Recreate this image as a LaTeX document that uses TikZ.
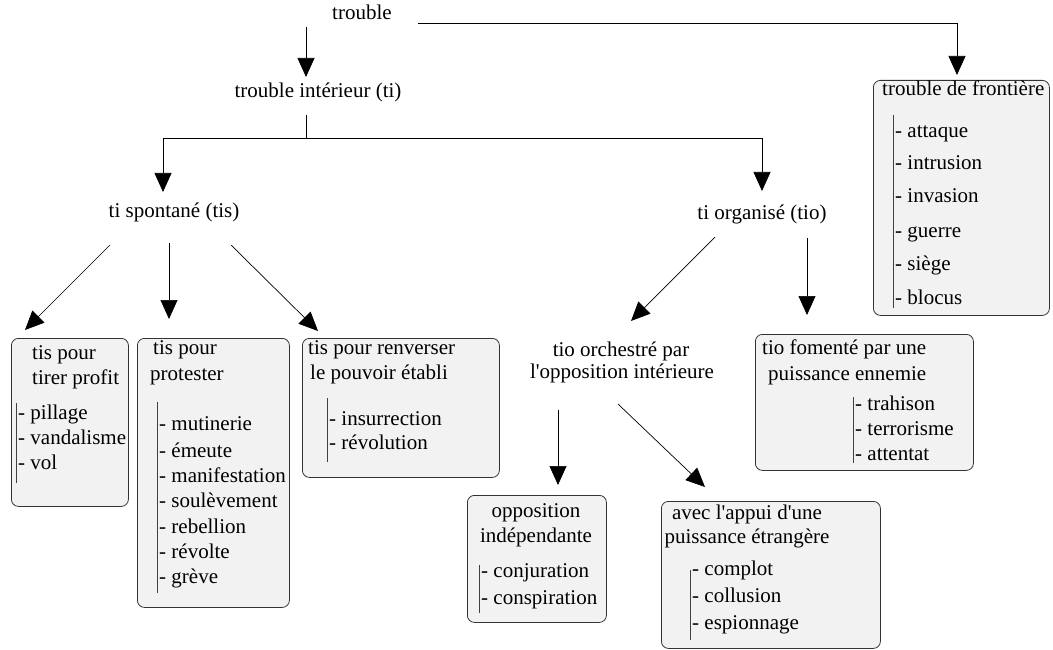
\documentclass[tikz,border=0pt]{standalone}
\usepackage{fontspec}
\setmainfont{Liberation Serif}
\usetikzlibrary{arrows.meta}
\begin{document}
\begin{tikzpicture}[x=1pt,y=-1pt,
  lbl/.style={font=\fontsize{21}{25}\selectfont, inner sep=0pt, anchor=mid west},
  clbl/.style={font=\fontsize{21}{25}\selectfont, inner sep=0pt, anchor=mid},
  box/.style={draw=black!80, fill=black!5, rounded corners=7pt, line width=0.8pt, anchor=north west, inner sep=0pt},
  bar/.style={draw=black!75, line width=0.8pt},
  conn/.style={draw=black, line width=0.7pt},
  arr/.style={conn, -{Triangle[length=19pt,width=17pt]}}]
\useasboundingbox (0,0) rectangle (1053,650);

% ---------- boxes ----------
\node[box, minimum width=117pt, minimum height=168pt] (b1) at (11,338) {};
\node[box, minimum width=152pt, minimum height=269pt] (b2) at (137,338) {};
\node[box, minimum width=197pt, minimum height=139pt] (b3) at (302,338) {};
\node[box, minimum width=218pt, minimum height=136pt] (b4) at (755,334) {};
\node[box, minimum width=139pt, minimum height=127pt] (b5) at (467,495) {};
\node[box, minimum width=219pt, minimum height=147pt] (b6) at (661,501) {};
\node[box, minimum width=176pt, minimum height=235pt] (b7) at (873,80) {};

% ---------- free labels ----------
\node[lbl] (trouble) at (332,17) {trouble};
\node[clbl] (ti) at (318,95) {trouble intérieur (ti)};
\node[clbl] (tis) at (174,215) {ti spontané (tis)};
\node[clbl] (tio) at (762,217) {ti organisé (tio)};
\node[clbl] (orch1) at (621,354) {tio orchestré par};
\node[clbl] (orch2) at (622,376) {l\textquotesingle opposition intérieure};

% ---------- box 1 ----------
\node[lbl] (b1t1) at (32,357) {tis pour};
\node[lbl] (b1t2) at (32,382) {tirer profit};
\draw[bar] (16,403) -- (16,483);
\node[lbl] (b1i1) at (18,417) {- pillage};
\node[lbl] (b1i2) at (18,442) {- vandalisme};
\node[lbl] (b1i3) at (18,467) {- vol};

% ---------- box 2 ----------
\node[lbl] (b2t1) at (153,352) {tis pour};
\node[lbl] (b2t2) at (150,378) {protester};
\draw[bar] (157,402) -- (157,593);
\node[lbl] (b2i1) at (159,428) {- mutinerie};
\node[lbl] (b2i2) at (159,455) {- émeute};
\node[lbl] (b2i3) at (159,480) {- manifestation};
\node[lbl] (b2i4) at (159,505) {- soulèvement};
\node[lbl] (b2i5) at (159,531) {- rebellion};
\node[lbl] (b2i6) at (159,556) {- révolte};
\node[lbl] (b2i7) at (159,581) {- grève};

% ---------- box 3 ----------
\node[lbl] (b3t1) at (308,352) {tis pour renverser};
\node[lbl] (b3t2) at (310,377) {le pouvoir établi};
\draw[bar] (327,398) -- (327,462);
\node[lbl] (b3i1) at (329,423) {- insurrection};
\node[lbl] (b3i2) at (329,447) {- révolution};

% ---------- box 4 ----------
\node[lbl] (b4t1) at (762,352) {tio fomenté par une};
\node[lbl] (b4t2) at (768,378) {puissance ennemie};
\draw[bar] (853,397) -- (853,463);
\node[lbl] (b4i1) at (855,408) {- trahison};
\node[lbl] (b4i2) at (855,433) {- terrorisme};
\node[lbl] (b4i3) at (855,458) {- attentat};

% ---------- box 5 ----------
\node[clbl] (b5t1) at (536,515) {opposition};
\node[clbl] (b5t2) at (536,540) {indépendante};
\draw[bar] (479,565) -- (479,613);
\node[lbl] (b5i1) at (481,575) {- conjuration};
\node[lbl] (b5i2) at (481,602) {- conspiration};

% ---------- box 6 ----------
\node[clbl] (b6t1) at (747,517) {avec l\textquotesingle appui d\textquotesingle une};
\node[clbl] (b6t2) at (747,541) {puissance étrangère};
\draw[bar] (690,570) -- (690,640);
\node[lbl] (b6i1) at (692,573) {- complot};
\node[lbl] (b6i2) at (692,600) {- collusion};
\node[lbl] (b6i3) at (692,627) {- espionnage};

% ---------- box 7 ----------
\node[lbl] (b7t1) at (882,93) {trouble de frontière};
\draw[bar] (893,115) -- (893,308);
\node[lbl] (b7i1) at (895,135) {- attaque};
\node[lbl] (b7i2) at (895,167) {- intrusion};
\node[lbl] (b7i3) at (895,200) {- invasion};
\node[lbl] (b7i4) at (895,235) {- guerre};
\node[lbl] (b7i5) at (895,268) {- siège};
\node[lbl] (b7i6) at (895,302) {- blocus};

% ---------- connector end points ----------
\coordinate (t-right) at (418,23);
\coordinate (b7-in) at (957,75);
\coordinate (t-down) at (306,27);
\coordinate (ti-in) at (306,77);
\coordinate (ti-out) at (306,115);
\coordinate (split) at (306,138);
\coordinate (tis-in) at (163,192);
\coordinate (tio-in) at (762,191);
\coordinate (tis-o1) at (110,245);
\coordinate (b1-in) at (25,330);
\coordinate (tis-o2) at (169,243);
\coordinate (b2-in) at (169,319);
\coordinate (tis-o3) at (231,245);
\coordinate (b3-in) at (318,331);
\coordinate (tio-o1) at (715,237);
\coordinate (orch-in) at (631,321);
\coordinate (tio-o2) at (807,238);
\coordinate (b4-in) at (807,315);
\coordinate (orch-o1) at (558,410);
\coordinate (b5-in) at (558,485);
\coordinate (orch-o2) at (618,404);
\coordinate (b6-in) at (705,487);

% ---------- connectors ----------
\draw[arr] (t-right) -| (b7-in);
\draw[arr] (t-down) -- (ti-in);
\draw[conn] (ti-out) -- (split);
\draw[arr] (split) -| (tis-in);
\draw[arr] (split) -| (tio-in);
\draw[arr] (tis-o1) -- (b1-in);
\draw[arr] (tis-o2) -- (b2-in);
\draw[arr] (tis-o3) -- (b3-in);
\draw[arr] (tio-o1) -- (orch-in);
\draw[arr] (tio-o2) -- (b4-in);
\draw[arr] (orch-o1) -- (b5-in);
\draw[arr] (orch-o2) -- (b6-in);
\end{tikzpicture}
\end{document}
